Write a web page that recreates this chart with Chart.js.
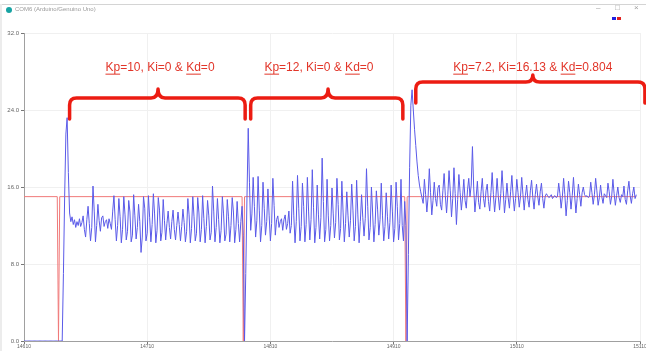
<!DOCTYPE html>
<html>
<head>
<meta charset="utf-8">
<script src="https://cdn.jsdelivr.net/npm/chart.js@4.4.1/dist/chart.umd.min.js"></script>
<style>
html, body { margin: 0; padding: 0; background: #fff; }
#wrap { position: relative; width: 646px; height: 351px; overflow: hidden; font-family: "Liberation Sans", Arial, sans-serif; }
#chart { position: absolute; left: 0; top: 0; }
#topline { position: absolute; left: 0; top: 4px; width: 646px; height: 1px; background: #d4d4d4; }
#leftline { position: absolute; left: 0; top: 4px; width: 2px; height: 347px; background: #ececec; }
#icon { position: absolute; left: 6px; top: 7px; width: 6px; height: 6px; border-radius: 50%; background: #17a3a3; }
#title { position: absolute; left: 15px; top: 6px; font-size: 6px; color: #9a9a9a; }
.btn { position: absolute; top: 3px; font-size: 8px; color: #a0a0a0; }
.sq { position: absolute; top: 17px; width: 4px; height: 3px; }
</style>
</head>
<body>
<div id="wrap">
  <canvas id="chart" width="646" height="351"></canvas>
  <div id="topline"></div>
  <div id="leftline"></div>
  <div id="icon"></div>
  <div id="title">COM6 (Arduino/Genuino Uno)</div>
  <div class="btn" style="left:596px">&ndash;</div>
  <div class="btn" style="left:615px">&#9633;</div>
  <div class="btn" style="left:634px">&times;</div>
  <div class="sq" style="left:612px;background:#2020e0"></div>
  <div class="sq" style="left:617px;background:#e02020"></div>
</div>
<script>
// tick labels (sample counter of the serial plotter)
var xTickLabels = ['14610', '14710', '14810', '14910', '15010', '15110'];

// setpoint (red), as sample index / value pairs
var setpointX = [0, 27, 28, 29, 177, 178, 179, 309, 310, 311, 497];
var setpointY = [15, 15, 0, 15, 15, 0, 15, 15, 0, 15, 15];

// measured output (blue), one value per sample
var idle = [0,0,0,0,0,0,0,0,0,0,0,0,0,0,0,0,0,0,0,0,0,0,0,0,0,0,0,0,0,0,0,0];
var runKp10 = [7,15,21.5,23.2,17.5,13.3,
  12.4,12.9,12.1,12.6,11.8,12.4,12.0,12.7,11.9,12.3,13.0,11.6,10.8,12.6,14.0,12.2,10.4,11.8,16.1,13.5,
  10.3,12.0,14.2,12.5,11.4,12.8,13.0,11.9,12.4,12.6,11.7,12.7,12.2,11.6,
  13.5,15.1,12.6,10.4,12.0,14.8,12.9,10.2,11.6,15.0,13.1,10.5,11.4,14.6,13.4,10.3,11.0,15.2,13.0,10.6,
  11.8,14.2,12.4,9.2,10.8,15.0,13.8,10.4,11.2,15.1,12.8,10.3,12.1,15.3,13.2,10.2,11.5,14.9,13.6,10.4,
  11.3,14.7,12.5,10.5,12.2,13.5,11.8,10.6,12.4,13.6,11.6,10.5,12.0,13.4,12.1,10.4,11.9,13.7,12.3,10.3,
  11.4,14.8,13.1,10.2,11.7,15.0,12.9,10.4,11.2,14.9,13.3,10.3,11.6,15.1,12.7,10.2,11.9,14.6,13.0,10.5,
  11.3,16.1,13.5,10.3,11.8,14.8,12.6,10.2,11.5,15.0,13.2,10.4,11.1,14.7,12.9,10.3,12.0,14.9,13.4,10.2,
  11.6,14.5,12.2,10.3,12.4,14.0,11.0];
var runKp12 = [0,7,15,22.1,16.5,11.5,
  13.2,17.0,14.0,10.8,12.5,17.1,13.6,10.3,12.0,16.5,13.8,11.0,12.4,15.8,13.0,10.4,12.2,16.9,14.1,11.0,
  12.6,13.0,11.8,12.4,12.7,11.5,12.6,13.1,11.6,12.2,13.5,11.2,12.0,
  16.6,13.0,10.2,12.4,17.2,13.8,10.4,11.9,16.4,14.0,10.3,12.1,17.0,13.5,10.5,12.6,17.8,13.9,10.2,11.8,
  16.2,13.1,10.6,12.8,19.0,14.5,10.3,11.6,16.8,13.0,10.4,12.0,15.9,13.2,10.7,12.3,16.9,14.2,10.5,11.7,
  16.6,13.4,10.3,12.2,15.5,13.0,10.8,12.5,16.3,13.6,10.4,11.9,16.7,13.1,10.2,12.4,15.2,12.8,10.9,12.7,
  17.9,14.0,10.5,11.8,16.0,13.3,10.3,12.1,15.6,13.7,11.0,12.6,16.4,13.0,10.4,11.9,15.4,12.9,10.6,12.3,
  16.2,13.5,10.3,11.7,16.5,14.0,10.5,12.2,16.8,12.0,10.4,14.5,12.0];
var runPid = [0,9,18,24.5,26.1,24.0,22.0,20.3,18.6,17.2,16.2,15.5,14.9,
  14.3,16.8,15.2,13.4,15.0,17.9,15.4,13.1,14.6,16.5,14.8,14.0,15.9,16.2,14.2,13.6,15.6,17.4,15.1,13.3,
  15.2,17.7,15.6,12.9,14.8,18.0,15.3,12.1,14.7,17.3,
  15.4,13.6,15.0,16.8,14.6,13.8,15.7,16.9,15.0,16.2,20.2,16.0,13.4,14.9,16.6,14.4,13.7,15.5,16.9,14.8,
  13.9,15.6,16.3,14.5,
  13.5,15.4,17.5,15.2,13.4,14.9,16.9,15.0,13.6,15.3,17.7,15.6,13.3,14.7,16.4,14.9,13.8,15.5,17.2,15.1,
  13.5,14.8,16.8,15.4,13.9,15.0,17.0,15.2,13.6,15.1,16.2,14.7,13.9,15.6,16.7,14.9,13.7,15.2,16.3,15.0,
  14.1,15.5,16.4,14.8,13.8,15.0,
  15.3,15.1,14.9,15.0,15.2,14.8,15.0,15.1,14.9,15.0,
  16.4,15.3,13.8,15.0,16.9,15.2,13.0,14.6,16.6,15.4,13.7,15.1,17.0,15.0,13.3,14.8,16.3,15.2,14.0,15.4,16.0,
  15.2,15.0,15.1,14.9,15.0,
  16.5,15.4,14.2,15.2,16.9,15.6,14.1,14.9,16.2,15.0,14.3,15.3,15.1,14.9,16.4,15.5,14.2,15.0,16.8,15.3,
  14.1,15.1,16.0,14.9,14.4,15.2,15.0,16.1,14.7,14.2,15.6,16.6,15.1,14.3,15.3,16.0,14.8,15.2];

// annotation braces, in sample units / plotted value units
var braceFrom = [37, 184, 318];
var braceTo = [179.5, 307.5, 504];
var braceTipAt = [108.8, 246.8, 413];
var braceLevel = [25.25, 25.25, 26.9];
var braceText = ['Kp=10, Ki=0 & Kd=0', 'Kp=12, Ki=0 & Kd=0', 'Kp=7.2, Ki=16.13 & Kd=0.804'];
var braceTextAt = [110.4, 239.4, 413];
var braceTextLevel = [28.4, 28.4, 28.4];

var output = idle.concat(runKp10, runKp12, runPid);

var braces = {
    id: 'braces',
    afterDatasetsDraw: function(chart) {
        var ctx = chart.ctx;
        var xs = chart.scales.x, ys = chart.scales.y;
        ctx.save();
        ctx.strokeStyle = '#ec1c12';
        ctx.lineWidth = 3.5;
        ctx.lineCap = 'round';
        ctx.lineJoin = 'round';
        for (var i = 0; i < braceFrom.length; i++) {
            var x1 = xs.getPixelForValue(braceFrom[i]);
            var x2 = xs.getPixelForValue(braceTo[i]);
            var xm = xs.getPixelForValue(braceTipAt[i]);
            var y = ys.getPixelForValue(braceLevel[i]);
            var d = 21, r = 7, tip = i == 2 ? 7 : 9;
            ctx.beginPath();
            ctx.moveTo(x1, y + d);
            ctx.lineTo(x1, y + r);
            ctx.quadraticCurveTo(x1, y, x1 + r, y);
            ctx.lineTo(xm - r, y);
            ctx.quadraticCurveTo(xm, y, xm, y - tip);
            ctx.quadraticCurveTo(xm, y, xm + r, y);
            ctx.lineTo(x2 - r, y);
            ctx.quadraticCurveTo(x2, y, x2, y + r);
            ctx.lineTo(x2, y + d);
            ctx.stroke();

            // label with underlined Kp / Kd
            ctx.font = '12px "Liberation Sans", Arial, sans-serif';
            ctx.fillStyle = '#e2362a';
            ctx.textBaseline = 'middle';
            ctx.textAlign = 'left';
            var parts = braceText[i].split(/(Kp|Kd)/).filter(function(p) { return p.length; });
            var w = ctx.measureText(braceText[i]).width;
            var tx = xs.getPixelForValue(braceTextAt[i]) - w / 2;
            var ty = ys.getPixelForValue(braceTextLevel[i]);
            parts.forEach(function(p) {
                var pw = ctx.measureText(p).width;
                ctx.fillText(p, tx, ty);
                if (p == 'Kp' || p == 'Kd') {
                    ctx.fillRect(tx, ty + 6, pw, 1);
                }
                tx += pw;
            });
        }
        ctx.restore();
    }
};

var ctx = document.getElementById('chart').getContext('2d');
var myChart = new Chart(ctx, {
    type: 'line',
    data: {
        datasets: [{
            label: 'output',
            data: output.map(function(v, i) { return {x: i, y: v}; }),
            borderColor: '#5a5ae8',
            borderWidth: 1,
            pointRadius: 0,
            tension: 0
        }, {
            label: 'setpoint',
            data: setpointX.map(function(x, i) { return {x: x, y: setpointY[i]}; }),
            borderColor: '#f07a7a',
            borderWidth: 1,
            pointRadius: 0,
            tension: 0
        }]
    },
    options: {
        responsive: false,
        animation: false,
        layout: { padding: { top: 33, right: 6, left: 0, bottom: 0 } },
        plugins: { legend: { display: false }, tooltip: { enabled: false } },
        scales: {
            x: {
                type: 'linear', min: 0, max: 500,
                grid: { color: '#f0f0f0', tickColor: '#777', tickLength: 3 },
                border: { color: '#a0a0a0' },
                ticks: {
                    stepSize: 100, padding: 0, maxRotation: 0, color: '#666',
                    font: { size: 5 },
                    callback: function(v) { return xTickLabels[v / 100]; }
                },
                afterFit: function(s) { s.height = 10; s.paddingLeft = 0; s.paddingRight = 0; }
            },
            y: {
                min: 0, max: 32,
                grid: { color: '#f0f0f0', tickColor: '#777', tickLength: 3 },
                border: { color: '#a0a0a0' },
                ticks: {
                    stepSize: 8, padding: 2, color: '#666',
                    font: { size: 6 },
                    callback: function(v) { return v.toFixed(1); }
                },
                afterFit: function(s) { s.width = 24; }
            }
        }
    },
    plugins: [braces]
});
</script>
</body>
</html>
